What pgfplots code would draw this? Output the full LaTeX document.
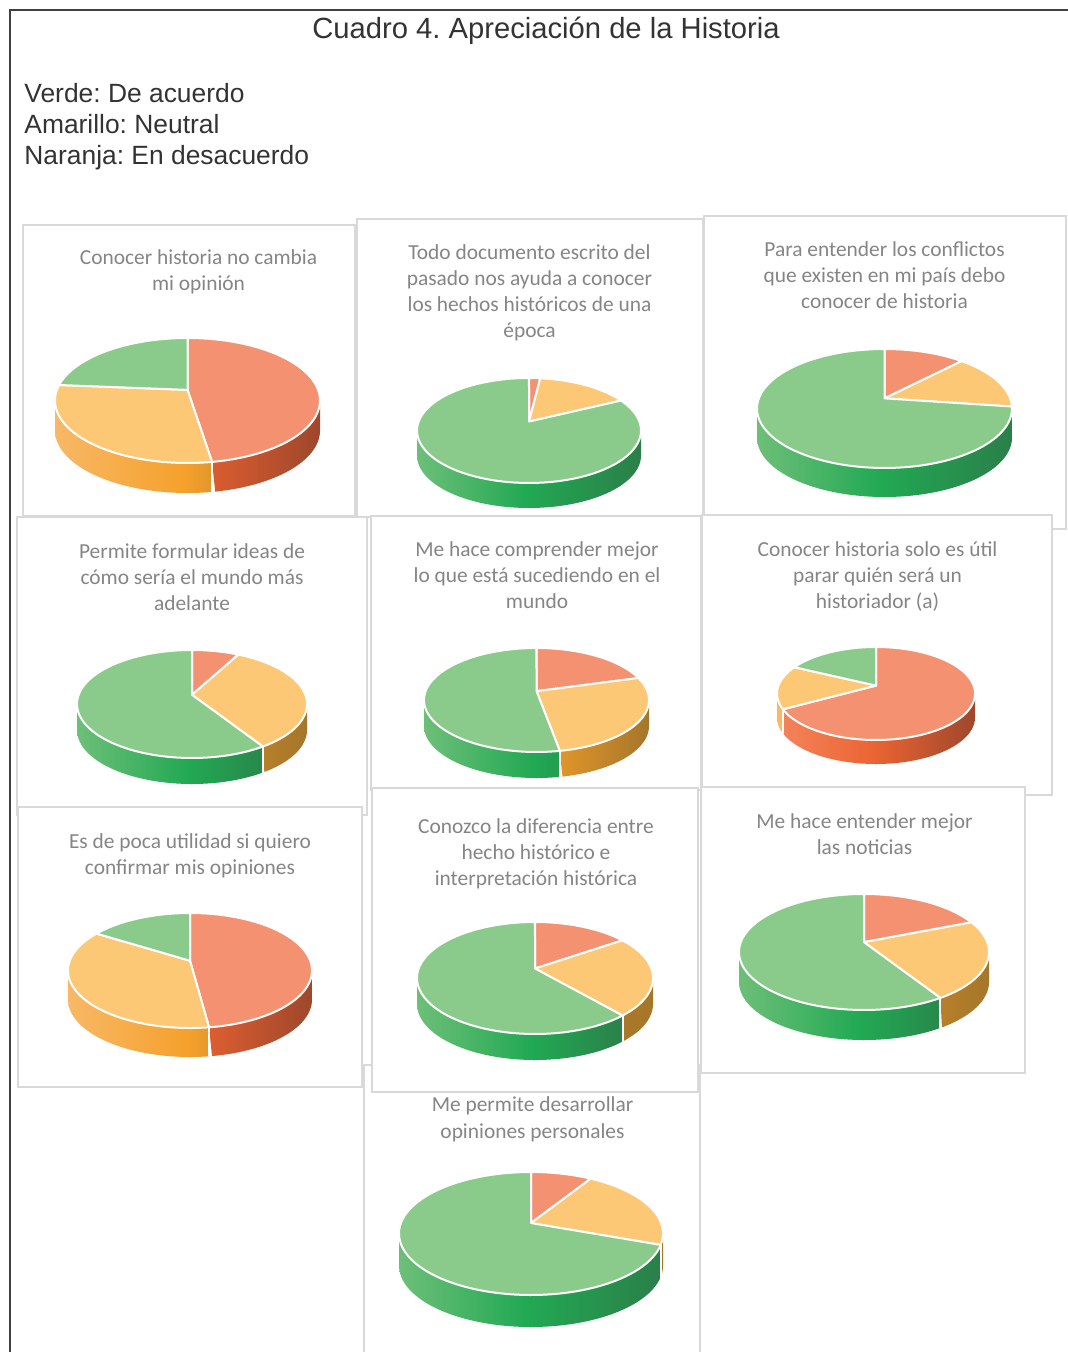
\documentclass[border=0pt]{standalone}
\usepackage{pgfplots}
\pgfplotsset{compat=1.18}
\usepackage{fontspec}
\setmainfont{Liberation Sans}
\newfontfamily\calibri{Carlito}
\frenchspacing

\definecolor{OT}{HTML}{F39170}
\definecolor{OL}{HTML}{F3845C}
\definecolor{OM}{HTML}{EC6331}
\definecolor{OD}{HTML}{9E472C}
\definecolor{YT}{HTML}{FCC876}
\definecolor{YL}{HTML}{F8B866}
\definecolor{YM}{HTML}{F5A02A}
\definecolor{YD}{HTML}{A5762A}
\definecolor{GT}{HTML}{8ACA8A}
\definecolor{GL}{HTML}{6DBF78}
\definecolor{GM}{HTML}{1FA852}
\definecolor{GD}{HTML}{2A7F49}
\definecolor{frame}{HTML}{D9D9D9}
\definecolor{ttl}{HTML}{858585}

\newcounter{wc}
\newcounter{pc}
\def\pp{0.17}
\pgfmathsetmacro\vA{acos(-\pp)}
\pgfmathsetmacro\vB{360-\vA}

% colour of the side wall at horizontal position X (-1 .. 1)
\newcommand\colorat[5]{%
  \pgfmathsetmacro\cX{#2}%
  \pgfmathtruncatemacro\cneg{\cX<0}%
  \ifnum\cneg=1
    \pgfmathtruncatemacro\cpc{max(0,min(100,100*(\cX+1)))}%
    \xglobal\colorlet{#1}{#4!\cpc!#3}%
  \else
    \pgfmathtruncatemacro\cpc{max(0,min(100,100*\cX/0.8))}%
    \xglobal\colorlet{#1}{#5!\cpc!#4}%
  \fi}

\newcommand\wallpiece[4]{%
  \pgfmathtruncatemacro\wok{(#2)-(#1)>0.05}%
  \ifnum\wok=1
    \stepcounter{wc}%
    \pgfmathsetmacro\wa{#1}\pgfmathsetmacro\wb{#2}%
    \colorat{wR\thewc}{sin(\wa)/(1+\pp*cos(\wa))}{#3L}{#3M}{#3D}%
    \colorat{wL\thewc}{sin(\wb)/(1+\pp*cos(\wb))}{#3L}{#3M}{#3D}%
    \edef\doplot{\noexpand\addplot[draw=none, left color=wL\thewc, right color=wR\thewc, domain=0:2, samples=121]
      ({sin(\wa+(\wb-\wa)*min(x,2-x))/(1+\pp*cos(\wa+(\wb-\wa)*min(x,2-x)))},
       {cos(\wa+(\wb-\wa)*min(x,2-x))/(1+\pp*cos(\wa+(\wb-\wa)*min(x,2-x)))-#4*(x>1)}) -- cycle;}%
    \doplot
  \fi}

\newcommand\slicewall[3]{%
  \pgfmathsetmacro\sA{max(#1,\vA)}%
  \pgfmathsetmacro\sB{min(#2,\vB)}%
  \pgfmathsetmacro\sM{min(\sB,181.5)}%
  \pgfmathsetmacro\sN{max(\sA,180)}%
  \wallpiece{\sA}{\sM}{#3}{\pD}%
  \wallpiece{\sN}{\sB}{#3}{\pD}}

\newcommand\slicetop[3]{%
  \edef\doplot{\noexpand\addplot[fill=#3T, draw=white, line width=1pt, line join=round, domain=#1:#2, samples=90]
   ({sin(x)/(1+\pp*cos(x))},{cos(x)/(1+\pp*cos(x))}) -- (axis cs:0,0) -- cycle;}\doplot}

\newcommand\sep[1]{%
  \pgfmathtruncatemacro\sok{and(#1>\vA,#1<\vB)}%
  \ifnum\sok=1
    \pgfmathsetmacro\qx{sin(#1)/(1+\pp*cos(#1))}%
    \pgfmathsetmacro\qy{cos(#1)/(1+\pp*cos(#1))}%
    \pgfmathsetmacro\qz{\qy-\pD}%
    \edef\doplot{\noexpand\addplot[white, line width=1pt] coordinates {(\qx,\qy) (\qx,\qz)};}\doplot
  \fi}

% \pie{cx}{y top}{y bottom of top face}{half width}{depth}{desacuerdo}{neutral}{de acuerdo}
\newcommand\pie[8]{%
  \pgfmathsetmacro\pK{(#3-#2)*(1-\pp*\pp)/2}%
  \pgfmathsetmacro\pR{#4*sqrt(1-\pp*\pp)}%
  \pgfmathsetmacro\pAy{#2+\pK/(1+\pp)}%
  \pgfmathsetmacro\pD{#5/\pK}%
  \pgfmathsetmacro\tot{(#6+#7+#8)/100}%
  \pgfmathsetmacro\tA{3.6*#6/\tot}%
  \pgfmathsetmacro\tB{3.6*(#6+#7)/\tot}%
  \def\tC{360}%
  \pgfmathsetmacro\ux{0.5*\pR}%
  \pgfmathsetmacro\uy{0.5*\pK}%
  \stepcounter{pc}%
  \coordinate (apex\thepc) at (#1,\pAy);
  \begin{axis}[at={(apex\thepc)}, anchor=center, x=\ux pt, y=\uy pt,
      xmin=-1.2, xmax=1.2, ymin=-1.8, ymax=1.8, hide axis, clip=false]
    \slicewall{0}{\tA}{O}\slicewall{\tA}{\tB}{Y}\slicewall{\tB}{\tC}{G}%
    \sep{\tA}\sep{\tB}%
    \slicetop{0}{\tA}{O}\slicetop{\tA}{\tB}{Y}\slicetop{\tB}{\tC}{G}%
  \end{axis}}

\newcommand\ptl[3]{\node[anchor=base, inner sep=0, text=ttl, font=\calibri\fontsize{10.7}{13}\selectfont] at (#1,#2) {#3};}
\newcommand\panel[4]{\draw[frame, line width=1pt, fill=white] (#1,#2) rectangle (#3,#4);}

\begin{document}
\frenchspacing
\begin{tikzpicture}[x=0.5pt, y=-0.5pt]
\path[use as bounding box] (0,0) rectangle (1068,1352);
\draw[black!75, line width=1pt] (10,1352) -- (10,10) -- (1068,10);
\node[anchor=base, inner sep=0, text=black!80, font=\fontsize{14.6}{17}\selectfont] at (546,38.5) {Cuadro 4. Apreciación de la Historia};
\node[anchor=base west, inner sep=0, text=black!80, font=\fontsize{13.2}{15}\selectfont] at (24,103) {Verde: De acuerdo};
\node[anchor=base west, inner sep=0, text=black!80, font=\fontsize{13.2}{15}\selectfont] at (24,134) {Amarillo: Neutral};
\node[anchor=base west, inner sep=0, text=black!80, font=\fontsize{13.2}{15}\selectfont] at (24,165) {Naranja: En desacuerdo};

% P1
\panel{23}{225}{355}{516}
\ptl{198.5}{265}{Conocer historia no cambia}
\ptl{198.5}{291}{mi opinión}
\pie{187.5}{338}{463}{132.5}{30}{47.5}{28.8}{23.7}
% P2
\panel{357}{219}{703}{517}
\ptl{529.5}{260}{Todo documento escrito del}
\ptl{529.5}{286}{pasado nos ayuda a conocer}
\ptl{529.5}{312}{los hechos históricos de una}
\ptl{529.5}{338}{época}
\pie{529}{378}{483}{112}{25}{1.9}{15.8}{82.3}
% P3
\panel{704}{216}{1066}{529}
\ptl{884.5}{257}{Para entender los conflictos}
\ptl{884.5}{283}{que existen en mi país debo}
\ptl{884.5}{309}{conocer de historia}
\pie{884.5}{349}{468}{127.5}{29}{12.1}{15.1}{72.8}
% P4
\panel{17}{517}{367}{815}
\ptl{192}{558}{Permite formular ideas de}
\ptl{192}{584}{cómo sería el mundo más}
\ptl{192}{610}{adelante}
\pie{192}{650}{758}{115}{26}{7.8}{33.2}{59.0}
% P5
\panel{371}{516}{701}{790}
\ptl{537}{556}{Me hace comprender mejor}
\ptl{537}{582}{lo que está sucediendo en el}
\ptl{537}{608}{mundo}
\pie{536.5}{648}{752}{112.5}{26}{20.6}{26.6}{52.8}
% P6
\panel{702}{515}{1052}{795}
\ptl{877.5}{556}{Conocer historia solo es útil}
\ptl{877.5}{582}{parar quién será un}
\ptl{877.5}{608}{historiador (a)}
\pie{876}{647}{740}{99}{24}{67.0}{15.2}{17.8}
% P7
\panel{18}{807}{362}{1087}
\ptl{190}{848}{Es de poca utilidad si quiero}
\ptl{190}{874}{confirmar mis opiniones}
\pie{190}{913}{1028}{122}{29}{47.9}{36.0}{16.1}
% P10
\panel{364}{1065}{700}{1362}
\ptl{532.5}{1111}{Me permite desarrollar}
\ptl{532.5}{1138}{opiniones personales}
\pie{531}{1172}{1295}{132}{32}{8.8}{21.8}{69.4}
% P8
\panel{372}{788}{698}{1092}
\ptl{536}{833}{Conozco la diferencia entre}
\ptl{536}{859}{hecho histórico e}
\ptl{536}{885}{interpretación histórica}
\pie{535}{922}{1034}{118}{26}{15.4}{23.2}{61.4}
% P9
\panel{701}{787}{1025}{1073}
\ptl{864.5}{828}{Me hace entender mejor}
\ptl{864.5}{854}{las noticias}
\pie{864}{894}{1010}{125}{30}{18.9}{22.2}{58.9}
\end{tikzpicture}
\end{document}
